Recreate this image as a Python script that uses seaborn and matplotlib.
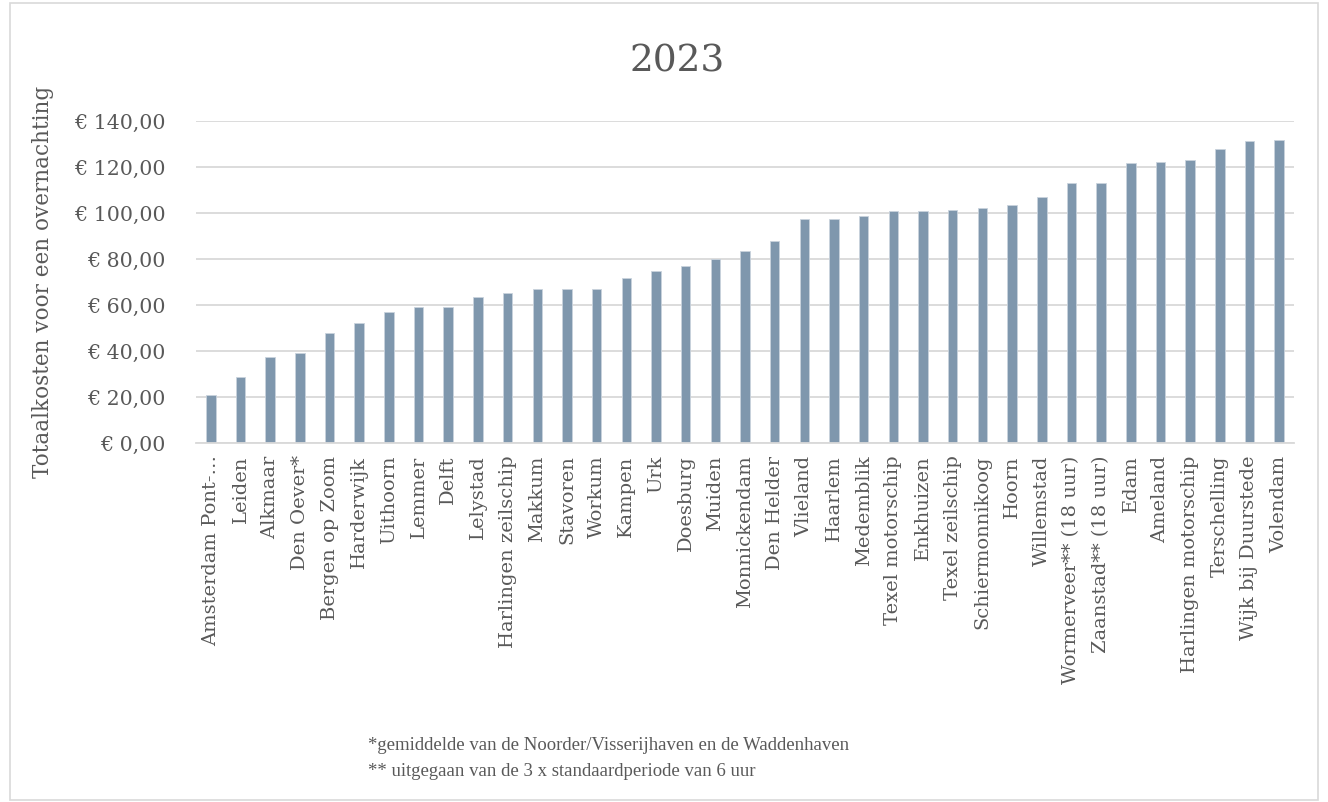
import matplotlib
matplotlib.use('Agg')
import pandas as pd
import seaborn as sns
import matplotlib.pyplot as plt
from matplotlib.ticker import FuncFormatter
from matplotlib.patches import Rectangle

# Havens en totaalkosten per overnachting (2023)
havens = ['Amsterdam Pont-…', 'Leiden', 'Alkmaar', 'Den Oever*', 'Bergen op Zoom',
          'Harderwijk', 'Uithoorn', 'Lemmer', 'Delft', 'Lelystad',
          'Harlingen zeilschip', 'Makkum', 'Stavoren', 'Workum', 'Kampen', 'Urk',
          'Doesburg', 'Muiden', 'Monnickendam', 'Den Helder', 'Vlieland', 'Haarlem',
          'Medemblik', 'Texel motorschip', 'Enkhuizen', 'Texel zeilschip',
          'Schiermonnikoog', 'Hoorn', 'Willemstad', 'Wormerveer** (18 uur)',
          'Zaanstad** (18 uur)', 'Edam', 'Ameland', 'Harlingen motorschip',
          'Terschelling', 'Wijk bij Duurstede', 'Volendam']
kosten = [20.8, 28.6, 37.2, 39.3, 48.0, 52.0, 56.8, 59.0, 59.3, 63.6,
          65.4, 67.0, 67.0, 67.0, 71.8, 75.0, 77.0, 80.1, 83.5, 88.0, 97.4, 97.5,
          98.6, 100.8, 100.9, 101.3, 102.2, 103.6, 106.8, 113.2,
          113.2, 121.8, 122.2, 123.0, 127.8, 131.2, 131.6]
ytick_waarden = [0, 20, 40, 60, 80, 100, 120, 140]

voetnoot_1 = '*gemiddelde van de Noorder/Visserijhaven en de Waddenhaven'
voetnoot_2 = '** uitgegaan van de 3 x standaardperiode van 6 uur'

df = pd.DataFrame({'haven': havens, 'kosten': kosten})

sns.set_theme(style='white')
plt.rcParams['font.family'] = ['DejaVu Serif', 'DejaVu Sans']

tekst = '#595959'
grijs = '#D9D9D9'

fig = plt.figure(figsize=(13.28, 8.02), dpi=100)
ax = fig.add_axes([196 / 1328, 1 - 443 / 802, (1294 - 196) / 1328, (443 - 121) / 802])

sns.barplot(data=df, x='haven', y='kosten', color='#7F97AD', saturation=1,
            width=0.32, edgecolor='#C9D3DD', linewidth=0.6, ax=ax)

ax.set_xlim(-0.5, len(havens) - 0.5)
ax.set_ylim(0, 140)
ax.set_yticks(ytick_waarden)
ax.yaxis.set_major_formatter(FuncFormatter(lambda v, p: '€ %d,00' % v))
ax.grid(axis='y', color=grijs, linewidth=1.3)
ax.set_axisbelow(True)
for kant in ['top', 'right', 'left']:
    ax.spines[kant].set_visible(False)
ax.spines['bottom'].set_color(grijs)
ax.spines['bottom'].set_linewidth(1.3)

ax.tick_params(axis='y', length=0, colors=tekst, labelsize=14.8, pad=22)
ax.tick_params(axis='x', length=0, colors=tekst, labelsize=14, pad=9)
plt.setp(ax.get_xticklabels(), rotation=90, ha='center', va='top')

ax.set_xlabel('')
ax.set_ylabel('Totaalkosten voor een overnachting', color=tekst, fontsize=15.5, labelpad=14)

fig.text(677 / 1328, 1 - 62 / 802, '2023', ha='center', va='center',
         fontsize=27, color=tekst)
fig.text(368 / 1328, 1 - 745 / 802, voetnoot_1, ha='left', va='center',
         fontsize=13.5, color=tekst, family='Liberation Serif')
fig.text(368 / 1328, 1 - 772 / 802, voetnoot_2, ha='left', va='center',
         fontsize=13.5, color=tekst, family='Liberation Serif')

# lichte rand om het hele grafiekgebied
fig.patches.append(Rectangle((10 / 1328, 2 / 802), 1308 / 1328, 797 / 802,
                             transform=fig.transFigure, fill=False,
                             edgecolor=grijs, linewidth=1.2))

fig.savefig('out.png', dpi=100, facecolor='white')
